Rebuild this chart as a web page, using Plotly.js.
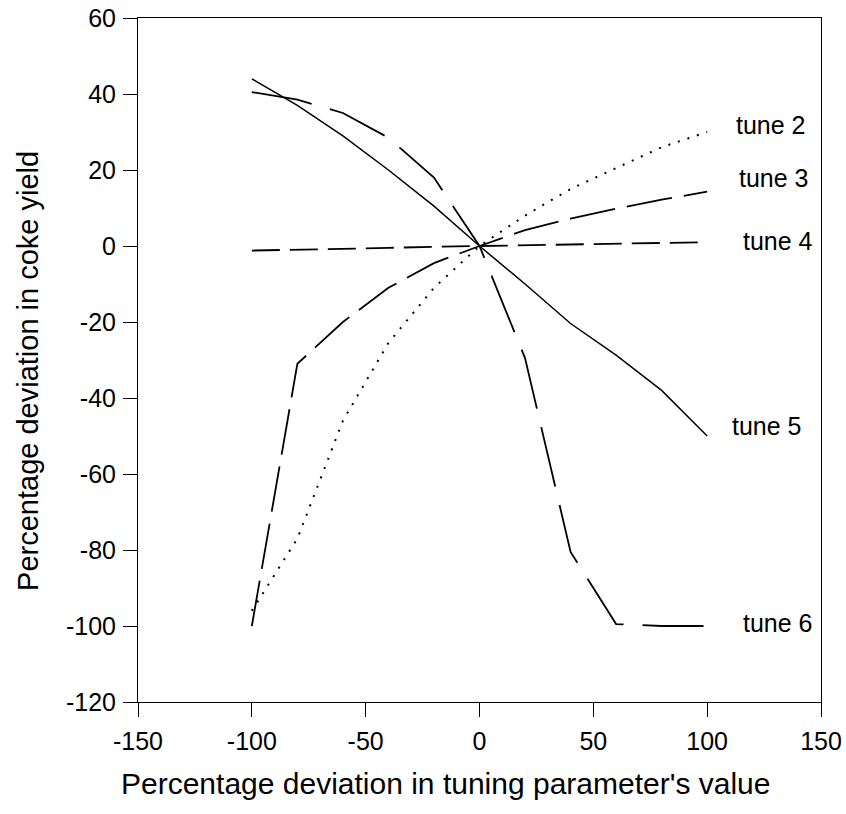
<!DOCTYPE html>
<html>
<head>
<meta charset="utf-8">
<script src="https://cdn.plot.ly/plotly-3.0.1.min.js"></script>
<style>html,body{margin:0;padding:0;background:#fff;}#chart{width:846px;height:814px;}</style>
</head>
<body>
<div id="chart"></div>
<script>
var xValues = [-100, -80, -60, -40, -20, 0, 20, 40, 60, 80, 100];
var tune2 = [-96, -77, -46, -25.5, -11, 0, 8, 15, 20.5, 26, 30];
var tune3 = [-100, -31, -20, -11, -4.5, 0, 4.2, 7.2, 9.8, 12.2, 14.3];
var tune4 = [-1.2, -1, -0.7, -0.5, -0.2, 0, 0.2, 0.4, 0.6, 0.8, 1.0];
var tune5 = [44, 37, 29, 20, 10.5, 0, -10, -20.4, -28.7, -38, -50];
var tune6 = [40.5, 38.5, 35, 28.5, 18, 0, -29.5, -80.5, -99.5, -100, -100];
var labelNames = ["tune 2", "tune 3", "tune 4", "tune 5", "tune 6"];
var labelX = [112, 113, 115, 110, 115];
var labelY = [31.8, 17.9, 1.3, -47.4, -99.3];
var xTickVals = [-150, -100, -50, 0, 50, 100, 150];
var xTickText = ["-150", "-100", "-50", "0", "50", "100", "150"];
var yTickVals = [-120, -100, -80, -60, -40, -20, 0, 20, 40, 60];
var yTickText = ["-120", "-100", "-80", "-60", "-40", "-20", "0", "20", "40", "60"];
var xTitle = "Percentage deviation in tuning parameter's value";
var yTitle = "Percentage deviation in coke yield";

var font = "Arial, 'Liberation Sans', sans-serif";
function tr(y, dash, w) {
  return {x: xValues, y: y, type: 'scatter', mode: 'lines',
          line: {color: '#000', width: w, dash: dash}, hoverinfo: 'skip', showlegend: false};
}
var data = [
  tr(tune2, '2px,8px', 2),
  tr(tune3, '46px,12px', 1.8),
  tr(tune4, '28px,10px', 1.8),
  tr(tune5, 'solid', 1.5),
  tr(tune6, '61px,19px', 1.8)
];
var annotations = labelNames.map(function (t, i) {
  return {x: labelX[i], y: labelY[i], xref: 'x', yref: 'y', text: t, showarrow: false,
          xanchor: 'left', yanchor: 'middle', font: {family: font, size: 25, color: '#000'}};
});
annotations.push({x: 0.45, y: 0, xref: 'paper', yref: 'paper', text: xTitle, showarrow: false,
  xanchor: 'center', yanchor: 'top', yshift: -63, font: {family: font, size: 30, color: '#000'}});
annotations.push({x: 0, y: 0.484, xref: 'paper', yref: 'paper', text: yTitle, showarrow: false,
  textangle: -90, xanchor: 'right', yanchor: 'middle', xshift: -92, font: {family: font, size: 29, color: '#000'}});

var layout = {
  width: 846, height: 814,
  margin: {l: 138, r: 25, t: 18, b: 112},
  paper_bgcolor: '#fff', plot_bgcolor: '#fff',
  font: {family: font, size: 25, color: '#000'},
  showlegend: false,
  xaxis: {range: [-150, 150], tickmode: 'array', tickvals: xTickVals, ticktext: xTickText,
          ticks: 'outside', ticklen: 14, tickwidth: 1, tickcolor: '#000', ticklabelstandoff: 3,
          showline: true, linecolor: '#000', linewidth: 1, mirror: true,
          showgrid: false, zeroline: false, tickfont: {family: font, size: 25, color: '#000'}},
  yaxis: {range: [-120, 60], tickmode: 'array', tickvals: yTickVals, ticktext: yTickText,
          ticks: 'outside', ticklen: 14, tickwidth: 1, tickcolor: '#000', ticklabelstandoff: 2,
          showline: true, linecolor: '#000', linewidth: 1, mirror: true,
          showgrid: false, zeroline: false, tickfont: {family: font, size: 25, color: '#000'}},
  annotations: annotations
};
Plotly.newPlot('chart', data, layout, {displayModeBar: false, staticPlot: true});
</script>
</body>
</html>
